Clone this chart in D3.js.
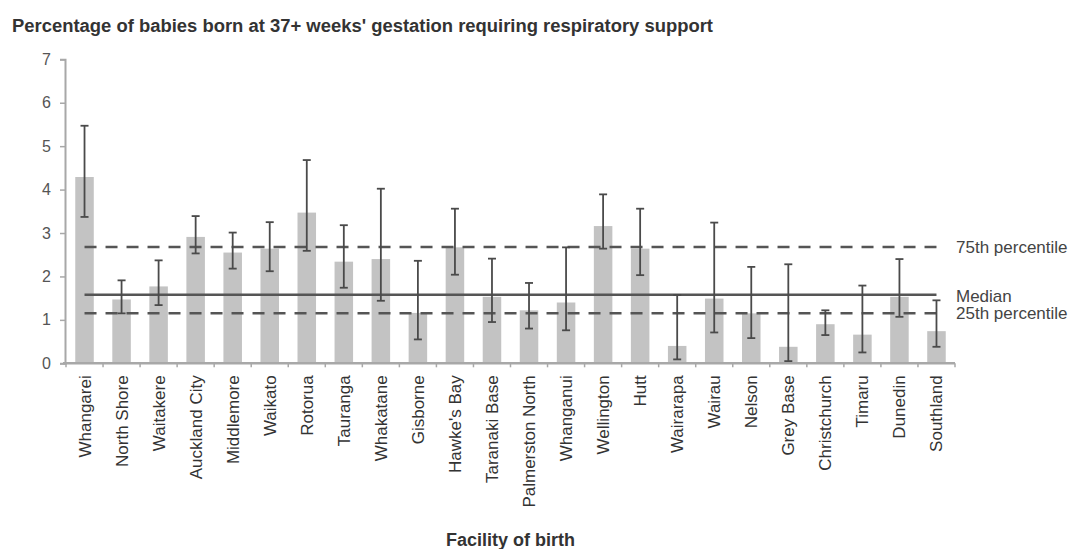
<!DOCTYPE html>
<html>
<head>
<meta charset="utf-8">
<script src="https://cdn.jsdelivr.net/npm/d3@7"></script>
<style>
  html, body { margin: 0; padding: 0; background: #fff; }
  svg { display: block; font-family: "Liberation Sans", Arial, sans-serif; }
</style>
</head>
<body>
<svg id="chart" width="1078" height="549"></svg>
<script>
// ---- data ----
const facilities = ["Whangarei","North Shore","Waitakere","Auckland City","Middlemore","Waikato","Rotorua","Tauranga","Whakatane","Gisborne","Hawke's Bay","Taranaki Base","Palmerston North","Whanganui","Wellington","Hutt","Wairarapa","Wairau","Nelson","Grey Base","Christchurch","Timaru","Dunedin","Southland"];
const values   = [4.29,1.47,1.77,2.91,2.55,2.64,3.47,2.34,2.40,1.16,2.67,1.53,1.22,1.40,3.16,2.64,0.40,1.49,1.15,0.38,0.90,0.66,1.53,0.74];
const ciLower  = [3.37,1.15,1.34,2.53,2.18,2.12,2.59,1.74,1.44,0.55,2.04,0.95,0.80,0.76,2.64,2.03,0.09,0.71,0.58,0.05,0.65,0.25,1.07,0.38];
const ciUpper  = [5.47,1.91,2.37,3.39,3.01,3.25,4.68,3.18,4.02,2.36,3.56,2.41,1.85,2.67,3.89,3.56,1.57,3.24,2.22,2.28,1.22,1.79,2.40,1.45];
const yTicks   = [0,1,2,3,4,5,6,7];
const refNames  = ["75th percentile","Median","25th percentile"];
const refValues = [2.68,1.58,1.15];
const refDashed = [true,false,true];
const titleText = "Percentage of babies born at 37+ weeks' gestation requiring respiratory support";
const xTitle = "Facility of birth";

// ---- layout ----
const svg = d3.select("#chart");
const x0 = 66, x1 = 955, yTop = 59.3, yBot = 363.3;
const x = d3.scaleBand().domain(facilities).range([x0, x1]).paddingInner(0.5).paddingOuter(0.25);
const y = d3.scaleLinear().domain([0, 7]).range([yBot, yTop]);
const data = facilities.map((f, i) => ({f, v: values[i], lo: ciLower[i], hi: ciUpper[i]}));

// title
svg.append("text").attr("x", 12).attr("y", 32)
  .attr("font-size", 18).attr("font-weight", "bold").attr("fill", "#333")
  .attr("textLength", 701).attr("lengthAdjust", "spacingAndGlyphs")
  .text(titleText);

// bars
svg.append("g").selectAll("rect").data(data).join("rect")
  .attr("x", d => x(d.f)).attr("width", x.bandwidth())
  .attr("y", d => y(d.v)).attr("height", d => y(0) - y(d.v))
  .attr("fill", "#c3c3c3");

// reference lines
const c0 = x(facilities[0]) + x.bandwidth() / 2;
const cN = x(facilities[facilities.length - 1]) + x.bandwidth() / 2;
const refs = refNames.map((n, i) => ({n, v: refValues[i], dashed: refDashed[i]}));
svg.append("g").selectAll("line").data(refs).join("line")
  .attr("x1", c0).attr("x2", cN)
  .attr("y1", d => y(d.v)).attr("y2", d => y(d.v))
  .attr("stroke", "#555").attr("stroke-width", 2.5)
  .attr("stroke-dasharray", d => d.dashed ? "12,9" : null);

// error bars
const eg = svg.append("g").attr("stroke", "#4a4a4a").attr("stroke-width", 1.8);
data.forEach(d => {
  const cx = x(d.f) + x.bandwidth() / 2;
  eg.append("line").attr("x1", cx).attr("x2", cx).attr("y1", y(d.lo)).attr("y2", y(d.hi));
  eg.append("line").attr("x1", cx - 4).attr("x2", cx + 4).attr("y1", y(d.lo)).attr("y2", y(d.lo));
  eg.append("line").attr("x1", cx - 4).attr("x2", cx + 4).attr("y1", y(d.hi)).attr("y2", y(d.hi));
});

// reference labels
const labelY = [y(refValues[0]) + 6, y(refValues[1]) + 7, y(refValues[2]) + 6];
svg.append("g").selectAll("text").data(refs).join("text")
  .attr("x", x1 + 1).attr("y", (d, i) => labelY[i])
  .attr("font-size", 17).attr("fill", "#444")
  .text(d => d.n);

// y axis
const yAxis = svg.append("g").attr("transform", `translate(${x0 - 1},0)`)
  .call(d3.axisLeft(y).tickValues(yTicks).tickFormat(d3.format("d")).tickSize(5).tickPadding(9));
yAxis.select(".domain").attr("stroke", "#a8a8a8").attr("stroke-width", 2);
yAxis.selectAll(".tick line").attr("stroke", "#a8a8a8").attr("stroke-width", 1.5);
yAxis.selectAll(".tick text").attr("font-size", 16).attr("fill", "#555")
  .attr("font-family", "Liberation Sans, Arial, sans-serif");

// x axis line and boundary ticks
const xa = svg.append("g");
xa.append("line").attr("x1", x0 - 3).attr("x2", x1).attr("y1", yBot).attr("y2", yBot)
  .attr("stroke", "#a8a8a8").attr("stroke-width", 2.5);
const step = x.step();
const bounds = d3.range(facilities.length + 1).map(i => x(facilities[0]) - x.bandwidth() * 0.5 - step * 0.0 + 0);
xa.selectAll("line.tk").data(d3.range(facilities.length + 1)).join("line").attr("class", "tk")
  .attr("x1", i => x0 + (x1 - x0) * i / facilities.length)
  .attr("x2", i => x0 + (x1 - x0) * i / facilities.length)
  .attr("y1", yBot).attr("y2", yBot + 4)
  .attr("stroke", "#a8a8a8").attr("stroke-width", 1.5);

// x labels (rotated)
svg.append("g").selectAll("text").data(facilities).join("text")
  .attr("transform", d => `translate(${x(d) + x.bandwidth() / 2 + 6},${yBot + 12}) rotate(-90)`)
  .attr("text-anchor", "end")
  .attr("font-size", 17).attr("fill", "#333")
  .text(d => d);

// x title
svg.append("text").attr("x", (x0 + x1) / 2).attr("y", 546)
  .attr("text-anchor", "middle").attr("font-size", 18).attr("font-weight", "bold").attr("fill", "#333")
  .text(xTitle);
</script>
</body>
</html>
